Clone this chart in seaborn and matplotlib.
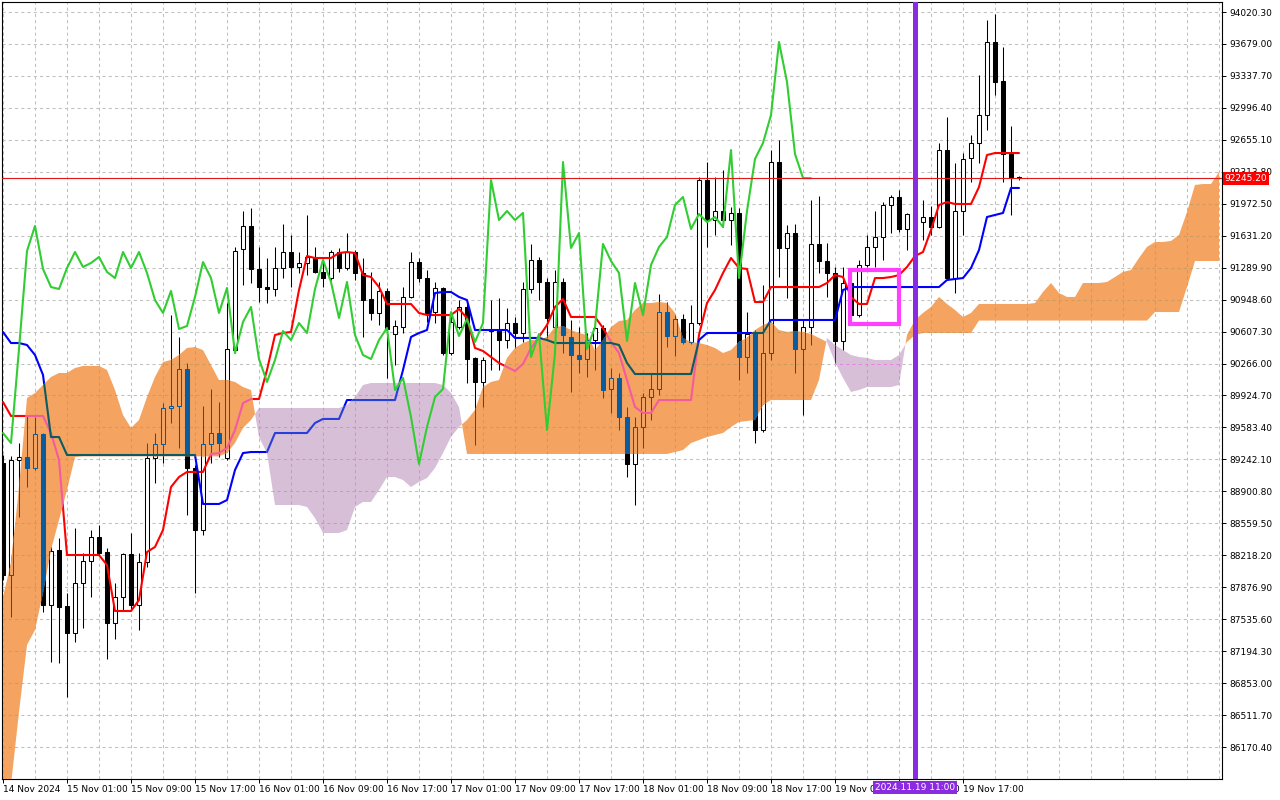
import numpy as np
import matplotlib
matplotlib.use("Agg")
import matplotlib.pyplot as plt
import seaborn as sns
from matplotlib.colors import to_rgb
from matplotlib.path import Path
from matplotlib.patches import PathPatch, Rectangle
from matplotlib.transforms import blended_transform_factory

# --- hourly candles, 14 Nov 17:00 -> 19 Nov 23:00 ---
opens = [89204, 88007, 89236, 89268, 89150, 89513, 87687, 88275, 87676, 87388,
         87922, 88157, 88413, 88253, 87495, 87772, 88232, 87687, 88146, 89257,
         89407, 89791, 89812, 90208, 89150, 88488, 89407, 89524, 89257, 90410,
         91489, 91735, 91276, 91083, 91062, 91286, 91457, 91297, 91340, 91393,
         91244, 91179, 91457, 91286, 91457, 91233, 90955, 90806, 91041, 90582,
         90656, 90977, 91350, 91179, 90816, 91073, 90378, 90656, 90870, 90325,
         90069, 90624, 90624, 90517, 90699, 90592, 91062, 91372, 91137, 90656,
         91137, 90550, 90357, 90314, 90517, 90646, 89994, 90112, 89695, 89193,
         89588, 89908, 89994, 90816, 90560, 90742, 90496, 90699, 92226, 91799,
         91895, 91799, 91874, 90336, 90592, 89556, 90378, 92418, 91500, 91660,
         90421, 90656, 91543, 91361, 91233, 90507, 91126, 90784, 91318, 91511,
         91617, 91959, 92045, 91703, 91863, 91777, 91831, 91724, 92546, 91179,
         91895, 92461, 92621, 92920, 93700, 93283, 92504, 92250]
highs = [89289, 89278, 89417, 89716, 89695, 89524, 88307, 88403, 87815, 88509,
         88243, 88488, 88541, 88296, 87922, 88243, 88456, 88243, 89417, 89524,
         89844, 90784, 90550, 90272, 89182, 89812, 89994, 89855, 90912, 91511,
         91895, 91927, 91511, 91393, 91511, 91756, 91639, 91457, 91852, 91511,
         91372, 91478, 91500, 91660, 91478, 91393, 91244, 91137, 91073, 90731,
         91083, 91457, 91393, 91265, 91137, 91083, 90816, 90944, 90944, 90336,
         90336, 90944, 90966, 90859, 90763, 91137, 91543, 91404, 91179, 91265,
         91179, 90731, 90656, 90592, 90731, 90678, 90218, 90165, 89802, 89695,
         89951, 90165, 91008, 90923, 90784, 90795, 90891, 92258, 92418, 92258,
         92333, 91938, 91927, 90816, 90624, 91105, 92546, 92653, 91745, 91756,
         90731, 92012, 92055, 91553, 91297, 91297, 91233, 91372, 91639, 91895,
         91991, 92066, 92119, 91874, 91959, 92012, 91948, 92621, 92899, 92408,
         92514, 92707, 93348, 93935, 93999, 93647, 92803, 92269]
lows = [87954, 87559, 88627, 88947, 89129, 87612, 87078, 87068, 86705, 87292,
        87441, 87772, 88221, 87110, 87324, 87634, 87634, 87420, 88093, 88990,
        89204, 89631, 89364, 88648, 87815, 88435, 89204, 89268, 89236, 90378,
        91105, 91126, 90923, 90912, 90987, 91179, 91083, 91233, 91211, 91233,
        91083, 91158, 91244, 91265, 91158, 90550, 90731, 90678, 90112, 90250,
        90592, 90966, 91137, 90710, 90699, 90357, 90357, 90635, 90058, 89396,
        89802, 90197, 90197, 90432, 90432, 90496, 91019, 90944, 90539, 90592,
        90378, 89962, 90165, 90122, 90197, 89898, 89738, 89556, 89054, 88755,
        89364, 89663, 89930, 90442, 90346, 90474, 90474, 90678, 91511, 91639,
        91724, 91532, 90090, 90165, 89417, 89535, 90304, 91190, 90966, 90165,
        89716, 90464, 91233, 90977, 90272, 90410, 90752, 90763, 91297, 91297,
        91372, 91660, 91670, 91478, 91639, 91585, 91639, 91713, 91158, 91019,
        91639, 92205, 92408, 92760, 93134, 92205, 91852, 92226]
closes = [88007, 89236, 89268, 89150, 89513, 87687, 88264, 87666, 87388, 87922,
          88157, 88413, 88243, 87495, 87772, 88232, 87687, 88146, 89257, 89407,
          89791, 89812, 90208, 89150, 88488, 89407, 89524, 89417, 90421, 91468,
          91735, 91276, 91083, 91062, 91286, 91457, 91297, 91340, 91404, 91244,
          91179, 91457, 91286, 91457, 91233, 90944, 90806, 91041, 90635, 90667,
          90977, 91350, 91179, 90806, 91073, 90378, 90710, 90870, 90314, 90069,
          90304, 90613, 90517, 90699, 90592, 91062, 91372, 91137, 90752, 91137,
          90571, 90357, 90314, 90517, 90646, 89983, 90112, 89695, 89193, 89588,
          89908, 89994, 90816, 90560, 90742, 90496, 90699, 92226, 91799, 91895,
          91799, 91874, 90336, 90582, 89556, 90378, 92418, 91500, 91660, 90421,
          90656, 91543, 91361, 91233, 90507, 91126, 90784, 91318, 91511, 91617,
          91959, 92045, 91703, 91863, 91777, 91831, 91724, 92546, 91179, 91895,
          92450, 92621, 92920, 93700, 93273, 92504, 92247, 92245.2]

# --- Ichimoku lines ---
tenkan = [89855, 89706, 89706, 89706, 89706, 89706, 89524, 89236, 88221, 88221,
          88221, 88221, 88221, 88114, 87623, 87623, 87623, 87740, 88253, 88307,
          88488, 88947, 89054, 89108, 89108, 89108, 89300, 89310, 89364, 89556,
          89844, 89887, 89887, 90197, 90571, 90592, 90603, 91051, 91414, 91393,
          91393, 91393, 91446, 91457, 91446, 91211, 91190, 91083, 90902, 90902,
          90902, 90902, 90806, 90784, 90784, 90784, 90784, 90848, 90752, 90432,
          90400, 90336, 90272, 90229, 90186, 90261, 90432, 90550, 90678, 90870,
          90955, 90763, 90763, 90763, 90763, 90646, 90496, 90378, 90090, 89802,
          89738, 89738, 89876, 89876, 89876, 89876, 89876, 90571, 90912, 91051,
          91233, 91393, 91286, 91276, 90923, 90923, 91083, 91083, 91083, 91083,
          91083, 91083, 91083, 91126, 91211, 91190, 90977, 90902, 90902, 91179,
          91179, 91190, 91211, 91297, 91414, 91457, 91692, 91959, 91991, 91970,
          91970, 91970, 92151, 92493, 92514, 92514, 92514, 92514]
kijun = [90603, 90485, 90485, 90464, 90357, 90144, 89481, 89481, 89289, 89289,
         89289, 89289, 89289, 89289, 89289, 89289, 89289, 89289, 89289, 89289,
         89289, 89289, 89289, 89289, 89289, 88766, 88766, 88766, 88808, 89129,
         89310, 89321, 89321, 89321, 89524, 89524, 89524, 89524, 89524, 89631,
         89674, 89674, 89674, 89876, 89876, 89876, 89876, 89876, 89876, 89876,
         90197, 90550, 90592, 90624, 91019, 91030, 91030, 90977, 90944, 90624,
         90624, 90624, 90624, 90624, 90539, 90539, 90539, 90539, 90517, 90485,
         90485, 90485, 90485, 90485, 90485, 90485, 90485, 90464, 90272, 90154,
         90154, 90154, 90154, 90154, 90154, 90154, 90154, 90517, 90592, 90592,
         90592, 90592, 90592, 90592, 90592, 90592, 90731, 90731, 90731, 90731,
         90731, 90731, 90731, 90731, 90731, 91051, 91083, 91083, 91083, 91083,
         91083, 91083, 91083, 91083, 91083, 91083, 91083, 91083, 91158, 91169,
         91179, 91286, 91478, 91831, 91852, 91874, 92141, 92141]
# cloud spans, 26 bars beyond the last candle
span_a = [87772, 88136, 88947, 89898, 89951, 90037, 90122, 90165, 90165, 90218,
          90240, 90240, 90240, 90197, 89983, 89716, 89578, 89663, 89908, 90122,
          90282, 90304, 90357, 90432, 90442, 90410, 90250, 90090, 90090, 90069,
          90015, 89983, 89481, 89310, 88755, 88755, 88755, 88755, 88734, 88616,
          88456, 88456, 88456, 88488, 88734, 88787, 88787, 88915, 89054, 89054,
          89022, 88947, 89001, 89043, 89150, 89310, 89481, 89588, 89663, 89770,
          90015, 90069, 90090, 90325, 90432, 90485, 90517, 90517, 90550, 90656,
          90667, 90624, 90592, 90571, 90410, 90517, 90656, 90720, 90731, 90838,
          90912, 90912, 90923, 90912, 90806, 90539, 90496, 90485, 90464, 90432,
          90378, 90410, 90496, 90539, 90624, 90678, 90710, 90624, 90603, 90613,
          90603, 90582, 90539, 90496, 90282, 90112, 89962, 89983, 90015, 90015,
          90015, 90015, 90037, 90571, 90731, 90806, 90870, 90977, 90902, 90838,
          90763, 90806, 90902, 90902, 90902, 90902, 90902, 90902, 90902, 90912,
          91030, 91126, 91019, 90977, 90977, 91126, 91126, 91126, 91137, 91190,
          91244, 91265, 91393, 91511, 91564, 91564, 91575, 91639, 91884, 92173,
          92183, 92183, 92312]
span_b = [85604, 85765, 86544, 87260, 87420, 87815, 88275, 88595, 88915, 89268,
          89275, 89275, 89275, 89275, 89275, 89275, 89275, 89275, 89275, 89275,
          89275, 89275, 89275, 89275, 89275, 89275, 89275, 89275, 89310, 89417,
          89578, 89663, 89791, 89791, 89791, 89791, 89791, 89791, 89791, 89791,
          89791, 89791, 89791, 89823, 89908, 90037, 90058, 90058, 90058, 90058,
          90058, 90058, 90058, 90058, 90058, 90037, 89951, 89802, 89300, 89300,
          89300, 89300, 89300, 89300, 89300, 89300, 89300, 89300, 89300, 89300,
          89300, 89300, 89300, 89300, 89300, 89300, 89300, 89300, 89300, 89300,
          89300, 89300, 89300, 89300, 89321, 89342, 89417, 89449, 89481, 89503,
          89524, 89588, 89642, 89652, 89663, 89823, 89876, 89876, 89876, 89876,
          89876, 89876, 90090, 90539, 90464, 90410, 90357, 90336, 90325, 90304,
          90304, 90304, 90357, 90496, 90571, 90592, 90592, 90592, 90592, 90592,
          90592, 90592, 90725, 90725, 90725, 90725, 90725, 90725, 90725, 90725,
          90725, 90725, 90725, 90725, 90725, 90725, 90725, 90725, 90725, 90725,
          90725, 90725, 90725, 90725, 90816, 90816, 90816, 90816, 91083, 91361,
          91361, 91361, 91361]

label_bars = [0, 8, 16, 24, 32, 40, 48, 56, 64, 72, 80, 88, 96, 104, 112, 120]
time_labels = ["14 Nov 2024", "15 Nov 01:00", "15 Nov 09:00", "15 Nov 17:00",
               "16 Nov 01:00", "16 Nov 09:00", "16 Nov 17:00", "17 Nov 01:00",
               "17 Nov 09:00", "17 Nov 17:00", "18 Nov 01:00", "18 Nov 09:00",
               "18 Nov 17:00", "19 Nov 01:00", "19 Nov 09:00", "19 Nov 17:00"]
price_ticks = [86170.40, 86511.70, 86853.00, 87194.30, 87535.60, 87876.90,
               88218.20, 88559.50, 88900.80, 89242.10, 89583.40, 89924.70,
               90266.00, 90607.30, 90948.60, 91289.90, 91631.20, 91972.50,
               92313.80, 92655.10, 92996.40, 93337.70, 93679.00, 94020.30]
last_price = 92245.20
marker_bar = 114
marker_label = "2024.11.19 11:00"
box_bars = (105.9, 112.0)
box_prices = (90688, 91265)

SANDY = "#F4A460"
THISTLE = "#D8BFD8"
GRID = "#C0C0C0"
CHIKOU_SHIFT = 26


def notxor(col, cloud):
    # MetaTrader paints the cloud with a NOT-XOR raster op
    a = [int(round(v * 255)) for v in to_rgb(col)]
    b = [int(round(v * 255)) for v in to_rgb(cloud)]
    return "#%02X%02X%02X" % tuple(255 - (p ^ q) for p, q in zip(a, b))


def draw_candles(ax, bull_face, bear_face, line_col, z, clip=None):
    o = np.asarray(opens, float)
    c = np.asarray(closes, float)
    x = np.arange(len(o))
    wicks = ax.vlines(x, lows, highs, colors=line_col, lw=0.75, zorder=z)
    faces = [bull_face if cc >= oo else bear_face for oo, cc in zip(o, c)]
    heights = np.maximum(np.abs(c - o), 8)
    rects = ax.bar(x, heights, bottom=np.minimum(o, c), width=0.6, color=faces,
                   edgecolor=line_col, lw=0.75, zorder=z)
    if clip is not None:
        wicks.set_clip_path(clip)
        for r in rects:
            r.set_clip_path(clip)


def draw_line(ax, y, color, z, clip=None, start=0):
    x = np.arange(start, start + len(y))
    sns.lineplot(x=x, y=np.asarray(y, float), color=color, lw=1.5, ax=ax,
                 zorder=z, sort=False, estimator=None)
    if clip is not None:
        ax.lines[-1].set_clip_path(clip)


def draw_grid(ax, color, z, clip=None):
    lines = [ax.axvline(gx, color=color, lw=0.75, ls=(0, (3, 3)), zorder=z)
             for gx in range(0, len(span_a), 4)]
    lines += [ax.axhline(gy, color=color, lw=0.75, ls=(0, (3, 3)), zorder=z)
              for gy in price_ticks]
    if clip is not None:
        for ln in lines:
            ln.set_clip_path(clip)


sns.set_style("white")
plt.rcParams["font.family"] = ["DejaVu Sans"]

fig = plt.figure(figsize=(12.8, 8), dpi=100)
ax = fig.add_axes([1.5 / 1280, 21.5 / 800, 1220.5 / 1280, 776.5 / 800])
ax.set_xlim(-0.1875, 152.375)
ax.set_ylim(85834.1, 94127.1)

# 1. grid, candles, tenkan / kijun
draw_grid(ax, GRID, 0.5)
draw_candles(ax, "white", "black", "black", 2)
draw_line(ax, tenkan, "#FF0000", 3)
draw_line(ax, kijun, "#0000FF", 3)

# 2. Kumo painted over them
a = np.asarray(span_a, float)
b = np.asarray(span_b, float)
cx = np.arange(len(a))
kumo_up = ax.fill_between(cx, a, b, where=a >= b, interpolate=True,
                          color=SANDY, lw=0, zorder=4)
kumo_dn = ax.fill_between(cx, a, b, where=a < b, interpolate=True,
                          color=THISTLE, lw=0, zorder=4)


def as_clip(coll):
    path = Path.make_compound_path(*coll.get_paths())
    return PathPatch(path, transform=ax.transData)


for coll, cloud in ((kumo_up, SANDY), (kumo_dn, THISTLE)):
    clip = as_clip(coll)
    dark = notxor("black", cloud)
    draw_grid(ax, notxor(GRID, cloud), 4.2, clip)
    draw_candles(ax, cloud, dark, dark, 4.4, clip)
    draw_line(ax, tenkan, notxor("#FF0000", cloud), 4.6, clip)
    draw_line(ax, kijun, notxor("#0000FF", cloud), 4.6, clip)

# 3. chikou span = closes shifted back
draw_line(ax, closes[CHIKOU_SHIFT:], "#32CD32", 6)

# 4. objects
ax.axhline(last_price, color="#E01818", lw=0.8, zorder=6.5)
ax.axvline(marker_bar, color="#8A2BE2", lw=3.6, zorder=7)
ax.add_patch(Rectangle((box_bars[0], box_prices[0]), box_bars[1] - box_bars[0],
                       box_prices[1] - box_prices[0], fill=False,
                       edgecolor="#FF40FF", lw=3, zorder=7.5))

# axes
ax.yaxis.tick_right()
ax.set_yticks(price_ticks)
ax.set_yticklabels([f"{v:.2f}" for v in price_ticks], fontsize=6.5)
ax.set_xticks(label_bars)
ax.set_xticklabels(time_labels, fontsize=6.5, ha="left")
ax.tick_params(axis="y", length=3, width=0.7, pad=2, colors="black", right=True, left=False)
ax.tick_params(axis="x", length=3, width=0.7, pad=2, colors="black", bottom=True)
ax.set_xlabel("")
ax.set_ylabel("")
for sp in ax.spines.values():
    sp.set_color("black")
    sp.set_linewidth(0.8)

ytrans = blended_transform_factory(ax.transAxes, ax.transData)
ax.text(1.002, last_price, f"{last_price:.2f}", transform=ytrans, color="white",
        fontsize=6.5, va="center", ha="left", zorder=10, clip_on=False,
        bbox=dict(boxstyle="square,pad=0.2", fc="#FF0000", ec="none"))
xtrans = blended_transform_factory(ax.transData, ax.transAxes)
ax.text(marker_bar, -0.006, marker_label, transform=xtrans, color="white",
        fontsize=6.5, va="top", ha="center", zorder=10, clip_on=False,
        bbox=dict(boxstyle="square,pad=0.25", fc="#8A2BE2", ec="none"))

fig.savefig("out.png", dpi=100)
